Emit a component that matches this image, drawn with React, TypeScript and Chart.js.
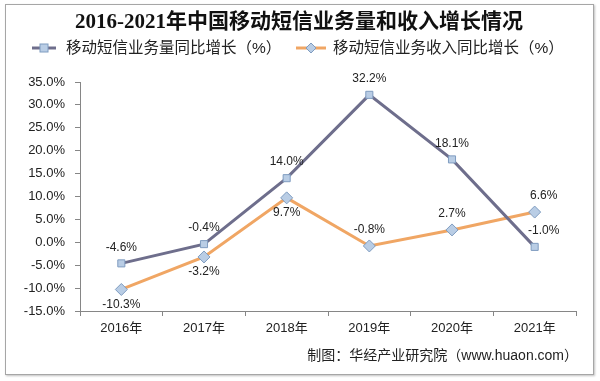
import React, { useEffect, useRef } from "react";
import { Chart, registerables } from "chart.js";

Chart.register(...registerables);

const TITLE = "2016-2021年中国移动短信业务量和收入增长情况";
const SOURCE = "制图：华经产业研究院（www.huaon.com）";
const categories = ["2016年", "2017年", "2018年", "2019年", "2020年", "2021年"];
const seriesNames = ["移动短信业务量同比增长（%）", "移动短信业务收入同比增长（%）"];
const volumeGrowth = [-4.6, -0.4, 14.0, 32.2, 18.1, -1.0];
const revenueGrowth = [-10.3, -3.2, 9.7, -0.8, 2.7, 6.6];
const yTicks = [-15, -10, -5, 0, 5, 10, 15, 20, 25, 30, 35];

// label placement (style): "above" / "below"
const volumeLabelPos = ["above", "above", "above", "above", "above", "above"];
const revenueLabelPos = ["below", "below", "below", "above", "above", "above"];

const COLORS = ["#6E6E8C", "#F0A664"];
const MARKER_FILL = "#B9CDE5";
const MARKER_BORDER = "#7F9CC0";
const FONT = "'Liberation Sans', 'Noto Sans CJK SC', sans-serif";

const overlayPlugin = {
  id: "overlay",
  afterDraw(chart: any) {
    const ctx = chart.ctx as CanvasRenderingContext2D;
    ctx.save();
    // title
    ctx.fillStyle = "#111";
    ctx.font = "bold 21px 'Liberation Serif', 'Noto Sans CJK SC', serif";
    ctx.textAlign = "center";
    ctx.textBaseline = "middle";
    ctx.fillText(TITLE, 299, 23);

    // legend
    const items = [
      { x: 32, len: 24, tx: 66, type: "square" },
      { x: 296, len: 30, tx: 333, type: "diamond" },
    ];
    items.forEach((it, i) => {
      const y = 48;
      ctx.strokeStyle = COLORS[i];
      ctx.lineWidth = 3;
      ctx.beginPath();
      ctx.moveTo(it.x, y);
      ctx.lineTo(it.x + it.len, y);
      ctx.stroke();
      ctx.fillStyle = MARKER_FILL;
      ctx.strokeStyle = MARKER_BORDER;
      ctx.lineWidth = 1;
      const cx = it.x + it.len / 2;
      if (it.type === "square") {
        ctx.fillRect(cx - 4, y - 4, 8, 8);
        ctx.strokeRect(cx - 4, y - 4, 8, 8);
      } else {
        ctx.beginPath();
        ctx.moveTo(cx, y - 5);
        ctx.lineTo(cx + 5, y);
        ctx.lineTo(cx, y + 5);
        ctx.lineTo(cx - 5, y);
        ctx.closePath();
        ctx.fill();
        ctx.stroke();
      }
      ctx.fillStyle = "#222";
      ctx.font = "15.5px " + FONT;
      ctx.textAlign = "left";
      ctx.fillText(seriesNames[i], it.tx, y + 1);
    });

    // data labels
    ctx.font = "12px " + FONT;
    ctx.fillStyle = "#222";
    ctx.textAlign = "center";
    const posArr = [volumeLabelPos, revenueLabelPos];
    chart.data.datasets.forEach((ds: any, di: number) => {
      const meta = chart.getDatasetMeta(di);
      meta.data.forEach((pt: any, i: number) => {
        const v = ds.data[i] as number;
        const pos = posArr[di][i];
        const dx = i === categories.length - 1 ? 9 : 0;
        const y = pos === "above" ? pt.y - 16 : pt.y + 15;
        ctx.fillText(v.toFixed(1) + "%", pt.x + dx, y);
      });
    });

    // source
    ctx.font = "14px " + FONT;
    ctx.fillStyle = "#222";
    ctx.textAlign = "right";
    ctx.fillText(SOURCE, 578, 356);
    ctx.restore();
  },
};

export default function App() {
  const ref = useRef<HTMLCanvasElement>(null);
  useEffect(() => {
    if (!ref.current) return;
    const chart = new Chart(ref.current, {
      type: "line",
      data: {
        labels: categories,
        datasets: [
          {
            label: seriesNames[0],
            data: volumeGrowth,
            borderColor: COLORS[0],
            borderWidth: 3,
            pointStyle: "rect",
            pointRadius: 5,
            pointBackgroundColor: MARKER_FILL,
            pointBorderColor: MARKER_BORDER,
            pointBorderWidth: 1,
            tension: 0,
          },
          {
            label: seriesNames[1],
            data: revenueGrowth,
            borderColor: COLORS[1],
            borderWidth: 3,
            pointStyle: "rectRot",
            pointRadius: 6,
            pointBackgroundColor: MARKER_FILL,
            pointBorderColor: MARKER_BORDER,
            pointBorderWidth: 1,
            tension: 0,
          },
        ],
      },
      options: {
        responsive: false,
        animation: false,
        layout: { padding: { top: 82, left: 0, right: 24, bottom: 40 } },
        plugins: {
          legend: { display: false },
          title: { display: false },
          tooltip: { enabled: false },
        },
        scales: {
          x: {
            offset: true,
            grid: {
              offset: true,
              drawOnChartArea: false,
              drawTicks: true,
              tickLength: 5,
              color: "#868686",
            },
            border: { color: "#868686", width: 1 },
            ticks: {
              color: "#222",
              font: { family: FONT, size: 13 },
              padding: 5,
              maxRotation: 0,
            },
            afterFit: (s: any) => {
              s.height = 30;
            },
          },
          y: {
            min: -15,
            max: 35,
            afterBuildTicks: (s: any) => {
              s.ticks = yTicks.map((v) => ({ value: v }));
            },
            grid: {
              drawOnChartArea: false,
              drawTicks: true,
              tickLength: 5,
              color: "#868686",
            },
            border: { color: "#868686", width: 1 },
            ticks: {
              color: "#222",
              font: { family: FONT, size: 13 },
              padding: 10,
              callback: (v: any) => Number(v).toFixed(1) + "%",
            },
            afterFit: (s: any) => {
              s.width = 80;
            },
          },
        },
      },
      plugins: [overlayPlugin],
    });
    return () => chart.destroy();
  }, []);

  return (
    <div
      style={{
        position: "fixed",
        left: 0,
        top: 0,
        width: 600,
        height: 381,
        background: "#fff",
      }}
    >
      <div
        style={{
          position: "absolute",
          left: 5,
          top: 4,
          width: 587,
          height: 369,
          border: "1px solid #A6A6A6",
          boxShadow: "1px 1px 2px rgba(0,0,0,0.25)",
        }}
      />
      <canvas
        ref={ref}
        width={600}
        height={381}
        style={{ position: "absolute", left: 0, top: 0 }}
      />
    </div>
  );
}
